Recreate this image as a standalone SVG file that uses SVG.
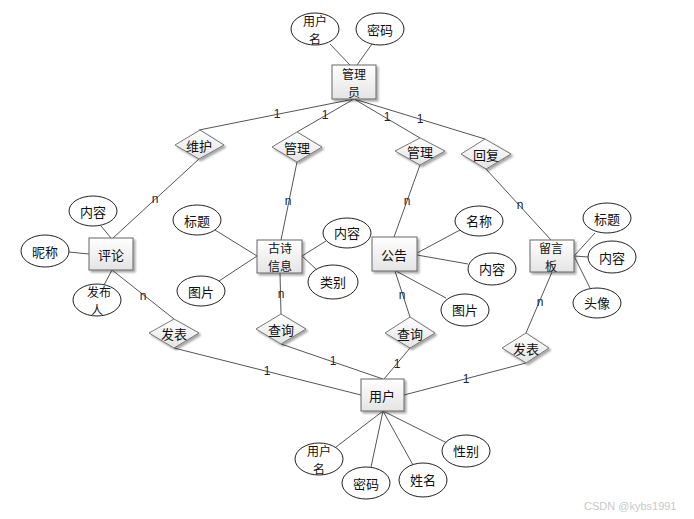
<svg xmlns="http://www.w3.org/2000/svg" width="694" height="519" viewBox="0 0 694 519">
<defs>
<linearGradient id="g" x1="0" y1="0" x2="0" y2="1">
<stop offset="0" stop-color="#ffffff"/>
<stop offset="1" stop-color="#e4e4e4"/>
</linearGradient>
<filter id="sh" x="-20%" y="-20%" width="150%" height="150%">
<feGaussianBlur in="SourceAlpha" stdDeviation="1.2"/>
<feOffset dx="2" dy="2"/>
<feComponentTransfer><feFuncA type="linear" slope="0.35"/></feComponentTransfer>
<feMerge><feMergeNode/><feMergeNode in="SourceGraphic"/></feMerge>
</filter>
</defs>
<style>
text{font-family:"Noto Sans CJK SC","Liberation Sans",sans-serif;font-size:13px;fill:#111;text-anchor:middle;dominant-baseline:central}
.w{font-size:12px}
.e{fill:#fff;stroke:#222;stroke-width:1}
.b{fill:url(#g);stroke:#666;stroke-width:1;filter:url(#sh)}
.d{fill:url(#g);stroke:#777;stroke-width:1;filter:url(#sh)}
.c line{stroke:#555;stroke-width:1}
.lab{font-family:"Liberation Sans",sans-serif;font-size:12px;fill:#1c2340}
.wm{font-family:"Liberation Sans",sans-serif;font-size:11px;fill:#c8c8c8;text-anchor:start}
</style>
<rect width="694" height="519" fill="#fff"/>
<g id="connectors" class="c">
<line x1="330" y1="44" x2="350" y2="65"/>
<line x1="372" y1="44" x2="357" y2="65"/>
<line x1="354" y1="99" x2="199" y2="130"/>
<line x1="354" y1="99" x2="297" y2="132"/>
<line x1="354" y1="99" x2="420" y2="138"/>
<line x1="354" y1="99" x2="485" y2="139"/>
<line x1="199" y1="159" x2="113" y2="238"/>
<line x1="101" y1="226" x2="111" y2="238"/>
<line x1="69" y1="252" x2="89" y2="254"/>
<line x1="104" y1="285" x2="112" y2="270"/>
<line x1="112" y1="270" x2="174" y2="319"/>
<line x1="297" y1="162" x2="281" y2="240"/>
<line x1="215" y1="230" x2="257" y2="256"/>
<line x1="219" y1="281" x2="257" y2="256"/>
<line x1="326" y1="241" x2="302" y2="256"/>
<line x1="317" y1="270" x2="302" y2="256"/>
<line x1="280" y1="273" x2="281" y2="314"/>
<line x1="420" y1="165" x2="394" y2="237"/>
<line x1="417" y1="253" x2="460" y2="230"/>
<line x1="417" y1="255" x2="468" y2="264"/>
<line x1="396" y1="271" x2="446" y2="298"/>
<line x1="395" y1="271" x2="410" y2="317"/>
<line x1="486" y1="169" x2="551" y2="240"/>
<line x1="574" y1="256" x2="595" y2="233"/>
<line x1="574" y1="256" x2="588" y2="257"/>
<line x1="574" y1="256" x2="590" y2="288"/>
<line x1="552" y1="272" x2="526" y2="333"/>
<line x1="174" y1="348" x2="361" y2="395"/>
<line x1="281" y1="344" x2="383" y2="379"/>
<line x1="410" y1="348" x2="384" y2="379"/>
<line x1="526" y1="363" x2="404" y2="395"/>
<line x1="383" y1="411" x2="336" y2="447"/>
<line x1="383" y1="411" x2="371" y2="467"/>
<line x1="383" y1="411" x2="413" y2="465"/>
<line x1="383" y1="411" x2="447" y2="443"/>
<g id="cardinalities">
<text class="lab" x="277" y="114">1</text>
<text class="lab" x="325" y="115">1</text>
<text class="lab" x="387" y="117">1</text>
<text class="lab" x="420" y="119">1</text>
<text class="lab" x="267" y="371">1</text>
<text class="lab" x="333" y="361">1</text>
<text class="lab" x="397" y="364">1</text>
<text class="lab" x="466" y="379">1</text>
<text class="lab" x="155" y="199">n</text>
<text class="lab" x="143" y="296">n</text>
<text class="lab" x="288" y="201">n</text>
<text class="lab" x="281" y="294">n</text>
<text class="lab" x="407" y="201">n</text>
<text class="lab" x="402" y="295">n</text>
<text class="lab" x="520" y="205">n</text>
<text class="lab" x="540" y="302">n</text>
</g>
</g>
<g id="admin"><rect class="b" x="332" y="65" width="44" height="34"/><text class="w" x="354" y="73">管理<tspan x="354" dy="17.5">员</tspan></text></g>
<g id="admin-username"><ellipse class="e" cx="315" cy="29" rx="24" ry="16"/><text class="w" x="315" y="20.5">用户<tspan x="315" dy="17.5">名</tspan></text></g>
<g id="admin-password"><ellipse class="e" cx="380" cy="29" rx="24" ry="16"/><text x="380" y="29">密码</text></g>
<g id="rel-maintain"><polygon class="d" points="175,145 200,130 224,145 199,159"/><text x="199" y="145">维护</text></g>
<g id="rel-manage1"><polygon class="d" points="272,147 297,132 322,147 297,162"/><text x="297" y="147">管理</text></g>
<g id="rel-manage2"><polygon class="d" points="395,151 420,138 445,151 420,165"/><text x="420" y="151">管理</text></g>
<g id="rel-reply"><polygon class="d" points="461,154 485,139 511,154 486,169"/><text x="486" y="154">回复</text></g>
<g id="comment"><rect class="b" x="89" y="238" width="44" height="32"/><text x="111" y="254">评论</text></g>
<g id="comment-content"><ellipse class="e" cx="93" cy="211" rx="24" ry="15"/><text x="93" y="211">内容</text></g>
<g id="comment-nick"><ellipse class="e" cx="45" cy="251" rx="24" ry="16"/><text x="45" y="251">昵称</text></g>
<g id="comment-author"><ellipse class="e" cx="97" cy="300" rx="24" ry="16"/><text class="w" x="99" y="291.5">发布<tspan x="97" dy="17.5">人</tspan></text></g>
<g id="poem"><rect class="b" x="257" y="240" width="45" height="33"/><text class="w" x="280" y="247.5">古诗<tspan x="280" dy="17.5">信息</tspan></text></g>
<g id="poem-title"><ellipse class="e" cx="197" cy="220" rx="24" ry="15"/><text x="197" y="220">标题</text></g>
<g id="poem-image"><ellipse class="e" cx="201" cy="291" rx="24" ry="15"/><text x="201" y="291">图片</text></g>
<g id="poem-content"><ellipse class="e" cx="347" cy="233" rx="24" ry="15"/><text x="347" y="232">内容</text></g>
<g id="poem-category"><ellipse class="e" cx="333" cy="282" rx="25" ry="17"/><text x="333" y="281">类别</text></g>
<g id="notice"><rect class="b" x="372" y="237" width="45" height="34"/><text x="394" y="254">公告</text></g>
<g id="notice-name"><ellipse class="e" cx="479" cy="221" rx="24" ry="15"/><text x="479" y="220">名称</text></g>
<g id="notice-content"><ellipse class="e" cx="492" cy="269" rx="24" ry="16"/><text x="492" y="268">内容</text></g>
<g id="notice-image"><ellipse class="e" cx="465" cy="310" rx="24" ry="16"/><text x="465" y="309">图片</text></g>
<g id="board"><rect class="b" x="530" y="240" width="44" height="32"/><text class="w" x="551" y="247.5">留言<tspan x="551" dy="17.5">板</tspan></text></g>
<g id="board-title"><ellipse class="e" cx="607" cy="218" rx="24" ry="15"/><text x="607" y="218">标题</text></g>
<g id="board-content"><ellipse class="e" cx="612" cy="257" rx="24" ry="16"/><text x="612" y="257">内容</text></g>
<g id="board-avatar"><ellipse class="e" cx="597" cy="303" rx="24" ry="15"/><text x="597" y="302">头像</text></g>
<g id="rel-post1"><polygon class="d" points="149,333 174,319 199,333 174,348"/><text x="174" y="333">发表</text></g>
<g id="rel-query1"><polygon class="d" points="256,329 281,314 306,329 281,344"/><text x="281" y="329">查询</text></g>
<g id="rel-query2"><polygon class="d" points="385,333 410,317 435,333 410,348"/><text x="410" y="333">查询</text></g>
<g id="rel-post2"><polygon class="d" points="502,348 526,333 549,348 526,363"/><text x="526" y="348">发表</text></g>
<g id="user"><rect class="b" x="361" y="379" width="43" height="32"/><text x="382" y="395">用户</text></g>
<g id="user-username"><ellipse class="e" cx="319" cy="459" rx="24" ry="16"/><text class="w" x="319" y="450.5">用户<tspan x="319" dy="17.5">名</tspan></text></g>
<g id="user-password"><ellipse class="e" cx="366" cy="483" rx="24" ry="16"/><text x="366" y="483">密码</text></g>
<g id="user-name"><ellipse class="e" cx="423" cy="480" rx="24" ry="17"/><text x="423" y="479">姓名</text></g>
<g id="user-gender"><ellipse class="e" cx="466" cy="451" rx="24" ry="16"/><text x="466" y="450">性别</text></g>
<text class="wm" x="584" y="506">CSDN @kybs1991</text>
</svg>
